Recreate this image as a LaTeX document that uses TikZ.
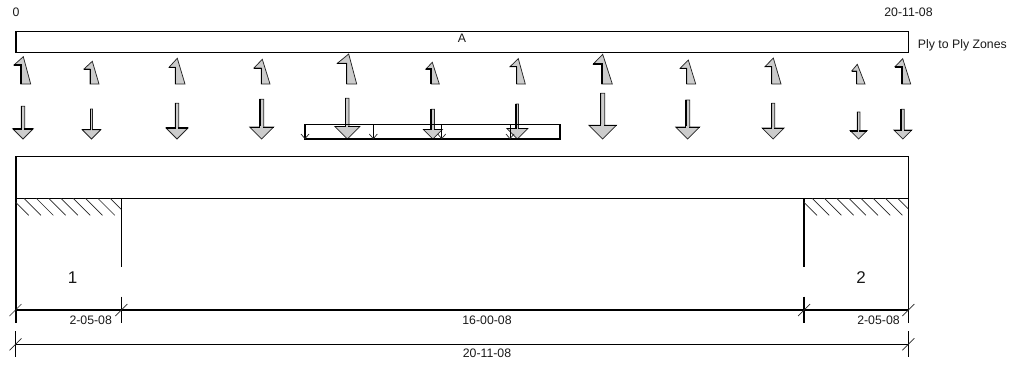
\documentclass[tikz,border=0pt]{standalone}
\usepackage{fontspec}
\setmainfont{Liberation Sans}
\tikzset{
  lbl/.style={inner sep=0pt,font=\fontsize{12.3}{14}\selectfont,text=black!90},
  zonelbl/.style={inner sep=0pt,font=\fontsize{17}{19}\selectfont,text=black!90},
  arrowshape/.style={draw=black!85,fill=black!20,line width=0.75pt,line join=miter},
  heavy/.style={line width=2pt},
  thin line/.style={draw=black,line width=1pt},
  hatch/.style={draw=black!85,line width=0.7pt},
  slash/.style={draw=black!85,line width=0.7pt}
}
\begin{document}
\begin{tikzpicture}[x=1pt,y=-1pt]
  \useasboundingbox (0,0) rectangle (1009,364);

  % Ply zone bar
  \coordinate (barNW) at (15.5,31.3);
  \coordinate (barSE) at (908.3,52.3);
  \draw[thin line] (barNW) rectangle (barSE);
  \draw[heavy] (barNW) -- (barNW |- barSE);
  \node[lbl] (startLbl) at (16,12.5) {0};
  \node[lbl] (endLbl) at (908.5,12.5) {20-11-08};
  \node[lbl] (zoneA) at (462,38) {A};
  \node[lbl,anchor=west] (zoneLbl) at (917.7,45.5) {Ply to Ply Zones};

  % Up arrows: stem, right, tip x, tip y, left x, shoulder y, stem width
  \foreach \s/\r/\k/\t/\l/\m/\w in {
    20.7/30.7/23.3/56.7/14/65/2, 90/99/92.3/61.3/84/69/1,
    175.3/185/177.3/58.3/169/67.3/1.6, 261.3/270/262.3/59.3/254/68/1,
    346.7/356.7/348.7/54/337.3/63.3/0.8, 431.3/439.3/432.3/62.3/425.7/69.3/2,
    516.7/525.3/518.3/58.7/510/66.7/0.8, 601.7/612.3/602.7/54.3/593.3/64/1.6,
    686.7/695.7/688.3/60/680/68.3/0.8, 771.7/781/773.3/58/765/66.7/0.8,
    856.7/865/857.3/64.3/851.7/71/0.8, 901.7/910.7/902.7/58.7/895/66.7/2}
  {
    \draw[arrowshape] (\s,84) -- (\r,84) -- (\k,\t) -- (\l,\m) -- (\s,\m) -- cycle;
    \draw[black,line width=\w pt] (\s,84) -- (\s,\m) -- (\l,\m);
  }

  % Down arrows: centre, half stem, top, half head, stem width, shoulder width
  \foreach \x/\s/\t/\h/\w/\b in {
    23/1.7/106.3/10.3/1/2, 91.5/1/109/9.2/0.8/0.8,
    177/1.7/103.3/11/0.8/2, 261.7/2/99.3/12/2/1,
    347.3/1.7/98.3/12.5/0.8/0.8, 432.9/1.7/109.3/9.5/2/1,
    517.3/1.3/104/10.5/1.4/0.8, 602.7/2/93.3/13.8/0.8/0.8,
    687.7/2/100/12/1.6/0.8, 773.2/1.5/103.3/11/1.2/0.8,
    858.6/1.3/112/8.5/0.8/2, 902.8/1.5/109.3/9/2/0.8}
  {
    \draw[arrowshape] (\x-\s,\t) -- (\x+\s,\t) -- (\x+\s,139-\h) -- (\x+\h,139-\h)
      -- (\x,139) -- (\x-\h,139-\h) -- (\x-\s,139-\h) -- cycle;
    \draw[black,line width=\w pt] (\x-\s,\t) -- (\x-\s,139-\h);
    \draw[black,line width=\b pt] (\x-\h,139-\h) -- (\x+\h,139-\h);
    \fill[black!20] (\x-\s+0.6,139-\h-1) rectangle (\x+\s-0.6,139-\h+1.2);
  }

  % Load strip behind the arrows
  \coordinate (stripNW) at (305,124.3);
  \coordinate (stripSE) at (560,138.7);
  \draw[thin line] (stripNW) -- (stripNW -| stripSE);
  \draw[line width=2pt] (stripNW) -- (stripNW |- stripSE) -- (stripSE) -- (stripSE |- stripNW);
  \foreach \x in {373.3,441.7,510}
  {
    \draw[thin line] (\x,124.3) -- (\x,138.7);
  }
  \foreach \x in {305,373.3,441.7,510}
  {
    \draw[slash] (\x-4,134) -- (\x,138.7) -- (\x+4,134);
  }

  % Main beam
  \coordinate (beamNW) at (15.5,156);
  \coordinate (beamNE) at (908.3,156);
  \coordinate (beamW) at (15.5,198.3);
  \coordinate (beamE) at (908.3,198.3);
  \coordinate (baseW) at (15.5,322.7);
  \coordinate (baseE) at (908.3,322.7);
  \coordinate (innerL) at (121.3,198.3);
  \coordinate (innerR) at (804,198.3);
  \draw[thin line] (beamNW) -- (beamNE) -- (baseE);
  \draw[thin line] (beamW) -- (beamE);
  \draw[heavy] (beamNW) -- (baseW);
  \draw[thin line] (innerL) -- (121.3,266.7);
  \draw[heavy] (innerR) -- (804,266.7);

  % Hatching
  \begin{scope}
    \clip (15.5,198.3) rectangle (121.3,216);
    \foreach \k in {0,...,8}
      \draw[hatch] (11.7+12.3*\k,198.3) -- ++(17,17);
  \end{scope}
  \begin{scope}
    \clip (804,198.3) rectangle (908.3,216);
    \foreach \k in {0,...,8}
      \draw[hatch] (800+12.2*\k,198.3) -- ++(17,17);
  \end{scope}

  \node[zonelbl] (zoneOne) at (72.5,277.5) {1};
  \node[zonelbl] (zoneTwo) at (861,277.5) {2};

  % Dimension lines
  \draw[thin line] (121.3,296.7) -- (121.3,322.7);
  \draw[heavy] (804,296.7) -- (804,322.7);
  \draw[line width=2pt] (baseW |- 0,310) -- (baseE |- 0,310);
  \foreach \x in {15.5,121.3,804,908.3}
    \draw[slash] (\x-6,316) -- (\x+6,304);
  \node[lbl] (dimA) at (90.7,320.7) {2-05-08};
  \node[lbl] (dimB) at (487,320.7) {16-00-08};
  \node[lbl] (dimC) at (878.5,320.7) {2-05-08};

  \coordinate (totalW) at (15.5,344.3);
  \coordinate (totalE) at (908.3,344.3);
  \draw[thin line] (totalW) -- (totalE);
  \draw[thin line] (15.5,331) -- (15.5,357);
  \draw[thin line] (908.3,331) -- (908.3,357);
  \foreach \x in {15.5,908.3}
    \draw[slash] (\x-6,350.3) -- (\x+6,338.3);
  \node[lbl] (dimTotal) at (487,353.5) {20-11-08};
\end{tikzpicture}
\end{document}
